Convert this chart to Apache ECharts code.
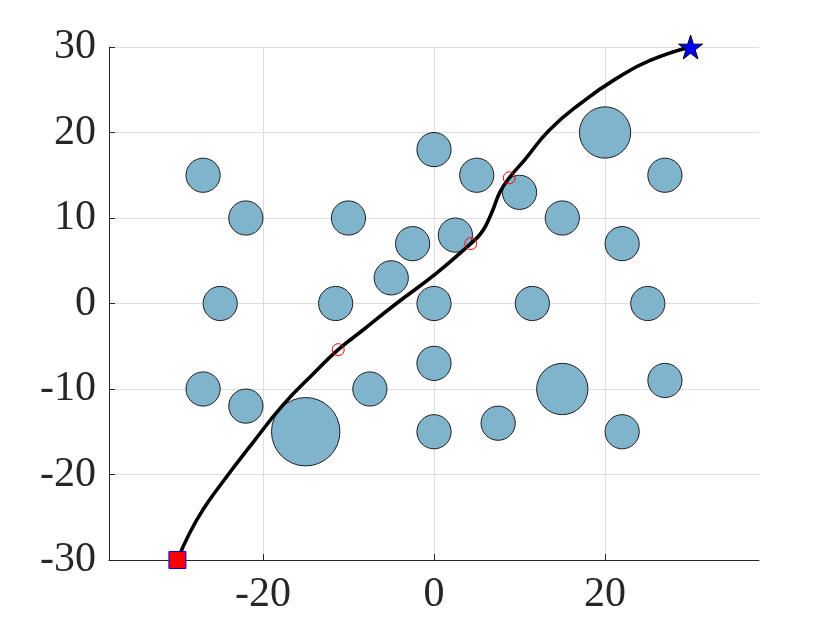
<!DOCTYPE html>
<html>
<head>
<meta charset="utf-8">
<script src="https://cdn.jsdelivr.net/npm/echarts@6/dist/echarts.min.js"></script>
<style>
    html, body { margin: 0; padding: 0; background: #fff; }
    #chart { width: 840px; height: 630px; }
</style>
</head>
<body>
<div id="chart"></div>
<script>
// obstacles: centre x, centre y, radius (data units)
const obsX = [-27, -22, -25, -27, -22, -15, -10, -11.5, -7.5, -5, -2.5, 0, 0, 0, 0, 2.5, 5, 7.5, 10, 11.5, 15, 15, 20, 22, 22, 25, 27, 27];
const obsY = [15, 10, 0, -10, -12, -15, 10, 0, -10, 3, 7, 18, 0, -7, -15, 8, 15, -14, 13, 0, 10, -10, 20, 7, -15, 0, 15, -9];
const obsR = [2, 2, 2, 2, 2, 4, 2, 2, 2, 2, 2, 2, 2, 2, 2, 2, 2, 2, 2, 2, 2, 3, 3, 2, 2, 2, 2, 2];

// planned path
const pathX = [-30, -28.6, -27.0, -25.1, -21.2, -17.6, -14.2, -11.2, -8.3, -4.4, 0.3, 4.3, 5.4, 6.1, 6.9, 7.7, 8.8, 10.6, 13.5, 17.4, 21.3, 25.2, 30];
const pathY = [-30, -26.9, -24.1, -21.4, -16.3, -11.8, -8.3, -5.4, -3.1, 0.0, 3.55, 7.0, 8.1, 9.2, 11.0, 13.0, 14.7, 16.8, 20.3, 23.6, 26.3, 28.4, 30];

// intermediate waypoints
const wpX = [-11.2, 4.3, 8.8];
const wpY = [-5.4, 7.0, 14.7];

const startPt = [-30, -30];
const goalPt = [30, 30];

const xTicks = [-20, 0, 20];

const starPath = 'path://M50,2 L61.23,36.55 L97.55,36.55 L68.16,57.9 L79.39,92.45 L50,71.1 L20.61,92.45 L31.84,57.9 L2.45,36.55 L38.77,36.55 Z';

window.onload = () => {
    const chart = echarts.init(document.getElementById('chart'));

    const obstacles = obsX.map((x, i) => [x, obsY[i], obsR[i]]);
    const path = pathX.map((x, i) => [x, pathY[i]]);
    const waypoints = wpX.map((x, i) => [x, wpY[i]]);

    const labelStyle = {
        fontFamily: 'Liberation Serif',
        fontSize: 42,
        color: '#262626'
    };

    chart.setOption({
        animation: false,
        grid: { left: 109, right: 81, top: 47, bottom: 70, containLabel: false },
        xAxis: {
            type: 'value',
            min: -38,
            max: 38,
            axisLine: { show: true, onZero: false, lineStyle: { color: '#262626', width: 1 } },
            axisTick: { show: true, inside: true, length: 6, customValues: xTicks, lineStyle: { color: '#262626' } },
            axisLabel: Object.assign({ customValues: xTicks, margin: 14 }, labelStyle),
            splitLine: { show: true, lineStyle: { color: '#dedede', width: 1 } }
        },
        yAxis: {
            type: 'value',
            min: -30,
            max: 30,
            interval: 10,
            axisLine: { show: true, onZero: false, lineStyle: { color: '#262626', width: 1 } },
            axisTick: { show: true, inside: true, length: 6, lineStyle: { color: '#262626' } },
            axisLabel: Object.assign({ margin: 13 }, labelStyle),
            splitLine: { show: true, lineStyle: { color: '#dedede', width: 1 } }
        },
        series: [
            {
                type: 'custom',
                name: 'obstacles',
                data: obstacles,
                z: 2,
                renderItem: function (params, api) {
                    const c = api.coord([api.value(0), api.value(1)]);
                    const s = api.size([api.value(2), api.value(2)]);
                    return {
                        type: 'circle',
                        shape: { cx: c[0], cy: c[1], r: s[0] },
                        style: { fill: '#80b3cc', stroke: '#1e1e1e', lineWidth: 1 }
                    };
                }
            },
            {
                type: 'line',
                name: 'path',
                data: path,
                smooth: 0.5,
                showSymbol: false,
                z: 3,
                lineStyle: { color: '#000', width: 3.6 }
            },
            {
                type: 'scatter',
                name: 'waypoints',
                data: waypoints,
                symbol: 'circle',
                symbolSize: 12,
                z: 4,
                itemStyle: { color: 'rgba(0,0,0,0)', borderColor: '#ff0000', borderWidth: 1, opacity: 1 }
            },
            {
                type: 'scatter',
                name: 'start',
                data: [startPt],
                symbol: 'rect',
                symbolSize: 17,
                z: 5,
                itemStyle: { color: '#ff0000', borderColor: '#0000ff', borderWidth: 1, opacity: 1 }
            },
            {
                type: 'scatter',
                name: 'goal',
                data: [goalPt],
                symbol: starPath,
                symbolSize: 24,
                z: 5,
                itemStyle: { color: '#0000ff', borderColor: '#000', borderWidth: 1, opacity: 1 }
            }
        ]
    });
};
</script>
</body>
</html>
